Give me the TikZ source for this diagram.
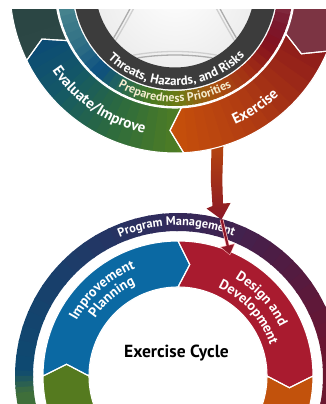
\documentclass[tikz,border=0pt]{standalone}
\usepackage{fontspec}
\setmainfont{PT Sans}
\usetikzlibrary{decorations.text,arrows.meta}

\definecolor{ringgray}{HTML}{3C3C3C}
\definecolor{segdarkA}{HTML}{233A3A}
\definecolor{segdarkB}{HTML}{2C4846}
\definecolor{evA}{HTML}{0A4878}
\definecolor{evB}{HTML}{145866}
\definecolor{evC}{HTML}{2C6A3E}
\definecolor{evD}{HTML}{54801F}
\definecolor{exA}{HTML}{C8520A}
\definecolor{exB}{HTML}{B03C12}
\definecolor{exC}{HTML}{8A181C}
\definecolor{maroonseg}{HTML}{7C3443}
\definecolor{ppA}{HTML}{4C8890}
\definecolor{ppB}{HTML}{2E6E84}
\definecolor{ppC}{HTML}{0C4F80}
\definecolor{ppD}{HTML}{2A6A50}
\definecolor{ppE}{HTML}{4A7A20}
\definecolor{ppF}{HTML}{6E7A14}
\definecolor{ppG}{HTML}{A8520F}
\definecolor{ppH}{HTML}{A43014}
\definecolor{ppI}{HTML}{82101F}
\definecolor{ppJ}{HTML}{7A1A30}
\definecolor{ppK}{HTML}{8A4050}
\definecolor{pmA}{HTML}{6A1A2E}
\definecolor{pmB}{HTML}{6B1530}
\definecolor{pmC}{HTML}{4E1C44}
\definecolor{pmD}{HTML}{33295A}
\definecolor{pmE}{HTML}{1B3D6A}
\definecolor{pmF}{HTML}{0D4A72}
\definecolor{pmG}{HTML}{3E6E3C}
\definecolor{pmH}{HTML}{4A7A2E}
\definecolor{ipblue}{HTML}{0B69A3}
\definecolor{ddred}{HTML}{A91B2F}
\definecolor{borange}{HTML}{C2520C}
\definecolor{bgreen}{HTML}{557A1F}
\definecolor{stemA}{HTML}{B4450F}
\definecolor{stemB}{HTML}{8B1626}
\definecolor{preptext}{HTML}{F4ECCF}

% chevron segment: r1 inner, r2 outer, tail angle, head angle, tip offset
\newcommand{\chevp}[5]{(#3:#2) arc[start angle=#3, end angle=#4, radius=#2] -- ({#4-#5}:{(#1+#2)/2}) -- (#4:#1) arc[start angle=#4, end angle=#3, radius=#1] -- ({#3-#5}:{(#1+#2)/2}) -- cycle}

% angular gradient over annulus sector: r1, r2, a1<a2, c1, c2, steps
\newcommand{\angfill}[7]{%
  \foreach \kk in {1,...,#7}{%
    \pgfmathsetmacro{\angA}{#3+(#4-#3)*(\kk-1)/#7}%
    \pgfmathsetmacro{\angB}{#3+(#4-#3)*\kk/#7+0.7}%
    \pgfmathtruncatemacro{\pctM}{100*(\kk-0.5)/#7}%
    \fill[#6!\pctM!#5] (\angA:#2) arc[start angle=\angA, end angle=\angB, radius=#2] -- (\angB:#1) arc[start angle=\angB, end angle=\angA, radius=#1] -- cycle;
  }}

\tikzset{
  seam/.style={draw=white, line width=1.1pt, line join=miter},
  gline/.style={draw=gray!65, line width=1.3pt},
  glineb/.style={draw=gray!38, line width=1.3pt}
}

\begin{document}
\begin{tikzpicture}[x=1pt,y=1pt]
\useasboundingbox (0,0) rectangle (326,404);
\fill[white] (0,0) rectangle (326,404);
\clip (0,0) rectangle (326,404);

% ---------- connector stem (under the upper cycle) ----------
\coordinate (stemTop) at (217.3,256);
\coordinate (bigTip) at (221.5,184.5);
\coordinate (smallTip) at (229.8,149.5);
\shade[top color=stemA, bottom color=stemB]
  (211.5,258) -- (210.8,224) -- (212.5,198) -- (206.5,195.5) -- (bigTip)
  -- (230.5,201) -- (223,200.5) -- (222.3,224) -- (223.3,258) -- cycle;

% ---------- upper cycle ----------
\begin{scope}
\clip (0,0) rectangle (326,394);
\begin{scope}[shift={(175,416)}]
  \shade[inner color=white, outer color=gray!14] (0,0) circle (80);
  \begin{scope}
    \clip (0,0) circle (79);
    \foreach \dx/\st in {0/gline,3.5/glineb}{
      \draw[\st] ({-100+\dx},-15) .. controls ({-85+\dx},-40) and ({-72+\dx},-60) .. ({-55+\dx},-82);
      \draw[\st] ({-42+\dx},-15) .. controls ({-55+\dx},-40) and ({-66+\dx},-58) .. ({-80+\dx},-80);
      \draw[\st] ({100-\dx},-15) .. controls ({85-\dx},-40) and ({72-\dx},-60) .. ({55-\dx},-82);
      \draw[\st] ({42-\dx},-15) .. controls ({55-\dx},-40) and ({66-\dx},-58) .. ({80-\dx},-80);
      \draw[\st] (-80,{-82+\dx}) .. controls (-35,{-62+\dx}) and (35,{-62+\dx}) .. (80,{-82+\dx});
    }
  \end{scope}
  \fill[ringgray, even odd rule] (0,0) circle (101.5) (0,0) circle (79.5);
  % preparedness ring
  \angfill{103}{118}{185}{212}{ppA}{ppB}{6}
  \angfill{103}{118}{212}{228}{ppB}{ppC}{4}
  \angfill{103}{118}{228}{243}{ppC}{ppD}{4}
  \angfill{103}{118}{243}{258}{ppD}{ppE}{4}
  \angfill{103}{118}{258}{272}{ppE}{ppF}{4}
  \angfill{103}{118}{272}{290}{ppF}{ppG}{5}
  \angfill{103}{118}{290}{310}{ppG}{ppH}{5}
  \angfill{103}{118}{310}{330}{ppH}{ppI}{5}
  \angfill{103}{118}{330}{342}{ppI}{ppJ}{3}
  \angfill{103}{118}{342}{362}{ppJ}{ppK}{4}
  % outer arrow band
  \begin{scope}
    \clip \chevp{120}{165}{206}{120}{5};
    \angfill{117}{168}{112}{207}{segdarkA}{segdarkB}{10}
  \end{scope}
  \begin{scope}
    \clip \chevp{120}{165}{273}{206}{5};
    \angfill{117}{168}{198}{222}{evA}{evB}{6}
    \angfill{117}{168}{222}{245}{evB}{evC}{6}
    \angfill{117}{168}{245}{275}{evC}{evD}{7}
  \end{scope}
  \begin{scope}
    \clip \chevp{120}{165}{337.5}{273}{5};
    \angfill{117}{168}{266}{300}{exA}{exB}{8}
    \angfill{117}{168}{300}{340}{exB}{exC}{8}
  \end{scope}
  \fill[maroonseg] \chevp{120}{165}{420}{337.5}{5};
  \path[seam] \chevp{120}{165}{206}{120}{5};
  \path[seam] \chevp{120}{165}{273}{206}{5};
  \path[seam] \chevp{120}{165}{337.5}{273}{5};
  \path[seam] \chevp{120}{165}{420}{337.5}{5};
  % labels
  \path[decorate, decoration={text along path, text align=center,
    text={|\fontsize{13}{13}\selectfont\bfseries\color{white}|Threats{,} Hazards{,} and Risks}}]
    (200:97.5) arc[start angle=200, end angle=342, radius=97.5];
  \path[decorate, decoration={text along path, text align=center,
    text={|\fontsize{12}{12}\selectfont\bfseries\color{preptext}|Preparedness Priorities}}]
    (210:114) arc[start angle=210, end angle=330, radius=114];
  \path[decorate, decoration={text along path, text align=center,
    text={|\fontsize{15}{15}\selectfont\bfseries\color{white}|Evaluate/Improve}}]
    (176:148) arc[start angle=176, end angle=296, radius=148];
  \path[decorate, decoration={text along path, text align=center,
    text={|\fontsize{15}{15}\selectfont\bfseries\color{white}|Exercise}}]
    (244:149) arc[start angle=244, end angle=364, radius=149];
\end{scope}
\end{scope}

% ---------- lower cycle ----------
\begin{scope}[shift={(178,28)}]
  \angfill{145}{163}{-25}{10}{pmA}{pmB}{5}
  \angfill{145}{163}{10}{50}{pmB}{pmC}{8}
  \angfill{145}{163}{50}{90}{pmC}{pmD}{8}
  \angfill{145}{163}{90}{135}{pmD}{pmE}{9}
  \angfill{145}{163}{135}{178}{pmE}{pmF}{8}
  \angfill{145}{163}{178}{186}{pmF}{pmG}{4}
  \angfill{145}{163}{186}{205}{pmG}{pmH}{4}
  \fill[bgreen] \chevp{89}{135}{270}{180}{6};
  \fill[ipblue] \chevp{89}{135}{180}{90}{6};
  \fill[ddred] \chevp{89}{135}{90}{0}{6};
  \fill[borange] \chevp{89}{135}{0}{-90}{6};
  \path[seam] \chevp{89}{135}{270}{180}{6};
  \path[seam] \chevp{89}{135}{180}{90}{6};
  \path[seam] \chevp{89}{135}{90}{0}{6};
  \path[seam] \chevp{89}{135}{0}{-90}{6};
  \path[decorate, decoration={text along path, text align=center,
    text={|\fontsize{12.3}{12.3}\selectfont\bfseries\color{white}|Program Management}}]
    (150.6:150.5) arc[start angle=150.6, end angle=30.6, radius=150.5];
  \path[decorate, decoration={text along path, text align=center,
    text={|\fontsize{14}{14}\selectfont\bfseries\color{white}|Improvement}}]
    (191.5:115.5) arc[start angle=191.5, end angle=71.5, radius=115.5];
  \path[decorate, decoration={text along path, text align=center,
    text={|\fontsize{14}{14}\selectfont\bfseries\color{white}|Planning}}]
    (190:101) arc[start angle=190, end angle=70, radius=101];
  \path[decorate, decoration={text along path, text align=center,
    text={|\fontsize{14}{14}\selectfont\bfseries\color{white}|Design and}}]
    (102.7:113) arc[start angle=102.7, end angle=-17.3, radius=113];
  \path[decorate, decoration={text along path, text align=center,
    text={|\fontsize{14}{14}\selectfont\bfseries\color{white}|Development}}]
    (102:97) arc[start angle=102, end angle=-18, radius=97];
\end{scope}
\node[font=\bfseries\fontsize{17.5}{17.5}\selectfont, text=black] (cycle) at (176.5,51) {Exercise Cycle};

% ---------- connector tip across the program ring ----------
\draw[line width=3.6pt, red!25!white, -{Triangle[length=10.5pt,width=15pt]}, shorten >=-0.8pt] (bigTip) -- (smallTip);
\draw[line width=2.2pt, ddred!85!black, -{Triangle[length=9pt,width=12.5pt]}] (bigTip) -- (smallTip);
\end{tikzpicture}
\end{document}
